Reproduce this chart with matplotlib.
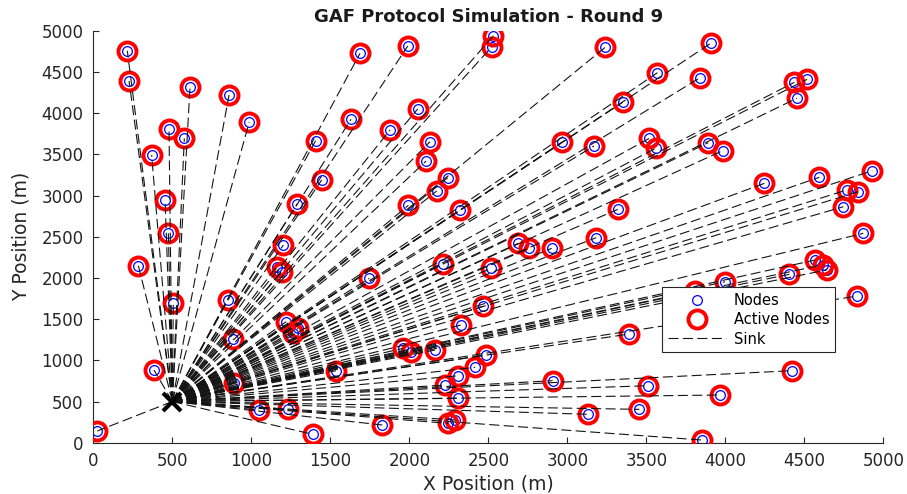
import matplotlib
matplotlib.use("Agg")
import matplotlib.pyplot as plt
from matplotlib.lines import Line2D

plt.rcParams['font.family'] = ['DejaVu Sans']

# node positions (all nodes are active in this round)
node_x = [215, 226, 612, 859, 986, 479, 576, 369, 454, 475,
          1688, 1990, 2053, 1631, 1878, 1407, 2131, 2106, 1445, 2243,
          2173, 1291, 1994, 2321, 2532, 2522, 3239, 3570, 3350, 2965,
          3169, 3519, 3559, 3319, 3907, 3840, 4437, 4517, 4452, 3892,
          3983, 4247, 4595, 4930, 4768, 4842, 4747, 4873, 285, 506,
          850, 886, 384, 892, 1049, 25, 1203, 1161, 1192, 1220,
          1294, 1266, 1234, 1747, 2211, 2520, 2465, 2325, 1962, 2011,
          2163, 2483, 2416, 2310, 2226, 2310, 1536, 1389, 1829, 2247,
          2289, 2690, 2759, 2901, 3182, 3392, 2907, 3513, 3456, 3133,
          3808, 3998, 4405, 4568, 4620, 4641, 4835, 4420, 3966, 3850]
node_y = [4757, 4390, 4317, 4220, 3888, 3803, 3694, 3491, 2949, 2541,
          4726, 4814, 4050, 3925, 3795, 3665, 3653, 3419, 3188, 3216,
          3055, 2900, 2881, 2820, 4939, 4806, 4798, 4490, 4131, 3646,
          3601, 3694, 3573, 2832, 4847, 4430, 4374, 4410, 4180, 3641,
          3544, 3148, 3221, 3301, 3067, 3046, 2864, 2541, 2148, 1699,
          1732, 1258, 882, 728, 397, 142, 2399, 2136, 2075, 1468,
          1388, 1335, 405, 1995, 2169, 2116, 1655, 1428, 1146, 1097,
          1125, 1064, 915, 813, 700, 539, 874, 102, 215, 235,
          276, 2420, 2359, 2359, 2488, 1319, 753, 692, 405, 345,
          1840, 1954, 2044, 2217, 2160, 2096, 1780, 874, 579, 33]

sink_x, sink_y = 500, 500

fig = plt.figure(figsize=(9.07, 4.94), dpi=100)
ax = fig.add_axes([0.1029, 0.1038, 0.871, 0.834])

ax.plot(node_x, node_y, 'o', ms=7, mfc='none', mec='blue', mew=0.9, zorder=2)
ax.plot(node_x, node_y, 'o', ms=13, mfc='none', mec='red', mew=2.8, zorder=3)
for x, y in zip(node_x, node_y):
    ax.plot([sink_x, x], [sink_y, y], color='0.08', lw=0.8,
            dashes=(9, 4), zorder=4)
ax.plot(sink_x, sink_y, 'x', color='k', ms=13, mew=3, zorder=5)

ax.set_xlim(0, 5000)
ax.set_ylim(0, 5000)
ax.set_xticks(range(0, 5001, 500))
ax.set_yticks(range(0, 5001, 500))
ax.tick_params(direction='in', length=4, width=0.8, labelsize=12,
               colors='#262626', pad=7)
for s in ['top', 'right']:
    ax.spines[s].set_visible(False)
for s in ['left', 'bottom']:
    ax.spines[s].set_color('#262626')
    ax.spines[s].set_linewidth(0.8)

ax.set_title('GAF Protocol Simulation - Round 9', fontsize=13,
             fontweight='bold', color='#1a1a1a', pad=6)
ax.set_xlabel('X Position (m)', fontsize=13.5, color='#262626')
ax.set_ylabel('Y Position (m)', fontsize=13.5, color='#262626')
ax.xaxis.set_label_coords(0.5, -0.077)
ax.yaxis.set_label_coords(-0.080, 0.5)

handles = [
    Line2D([], [], ls='none', marker='o', ms=7, mfc='none', mec='blue', mew=0.9),
    Line2D([], [], ls='none', marker='o', ms=13, mfc='none', mec='red', mew=2.8),
    Line2D([], [], color='0.08', lw=0.8, dashes=(9, 4)),
]
leg = ax.legend(handles, ['Nodes', 'Active Nodes', 'Sink'], loc='upper left',
                bbox_to_anchor=(0.72, 0.378), fontsize=10.5, fancybox=False,
                framealpha=1, edgecolor='#262626', borderpad=0.4,
                labelspacing=0.3, handlelength=4.0, handletextpad=0.5,
                borderaxespad=0)
leg.set_zorder(10)
leg.get_frame().set_linewidth(0.8)

fig.savefig('out.png', dpi=100)
